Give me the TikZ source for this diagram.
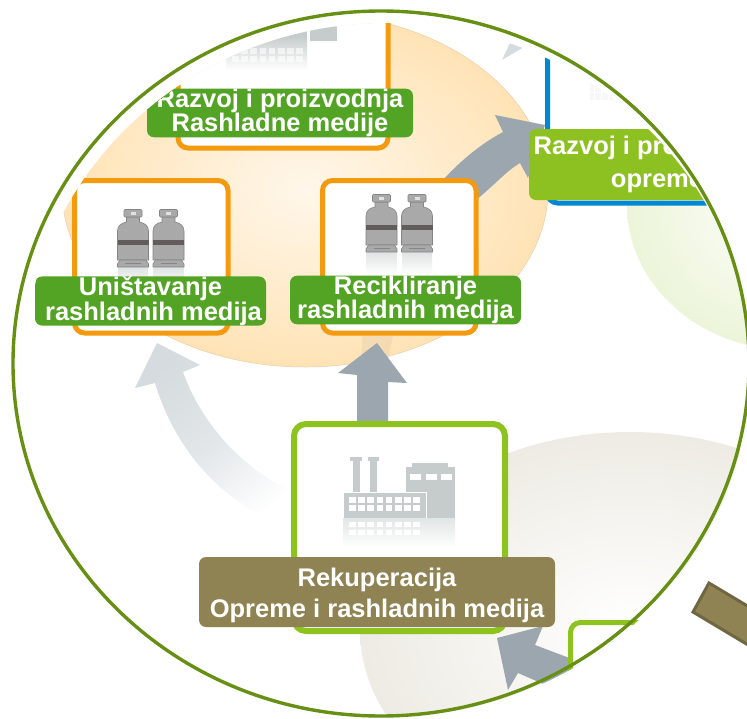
\documentclass[tikz,border=0pt]{standalone}
\usepackage{fontspec}
\setmainfont{Liberation Sans}
\usetikzlibrary{positioning}
\definecolor{RingGreen}{HTML}{668F14}
\definecolor{BoxOrange}{HTML}{F39A0E}
\definecolor{BoxLime}{HTML}{8DC21F}
\definecolor{BoxBlue}{HTML}{0087D1}
\definecolor{LabelGreen}{HTML}{53A325}
\definecolor{LabelLime}{HTML}{8DC021}
\definecolor{LabelBrown}{HTML}{8F8353}
\definecolor{HandleEdge}{HTML}{6F6642}
\definecolor{ArrowGrey}{HTML}{9BA6AF}
\definecolor{PaleGrey}{HTML}{D5DBDE}
\definecolor{IconGrey}{HTML}{C6CCCC}
\definecolor{CylGrey}{HTML}{A9A9A9}
\definecolor{CylEdge}{HTML}{858585}
\definecolor{CylBand}{HTML}{625C5C}
\definecolor{DiscInner}{HTML}{FFF7EA}
\definecolor{DiscOuter}{HTML}{FFE3B6}
\definecolor{DiscEdge}{HTML}{E9CDA6}
\tikzset{
  labelbox/.style={rounded corners=7pt,text=white,align=center,inner sep=0pt,
    font=\fontsize{25.5}{#1}\selectfont\bfseries},
  framebox/.style={line width=5pt,rounded corners=10pt,fill=white},
  cylinder icon/.pic={
    \shade[top color=IconGrey!55,bottom color=white] (-15,58) rectangle (15,80);
    \path[fill=CylGrey,draw=CylEdge,line width=.6pt] (-6.5,8) -- (6.5,8) -- (6.5,13)
      .. controls (12,14) and (15.5,17) .. (15.5,22) -- (15.5,51) -- (-15.5,51) -- (-15.5,22)
      .. controls (-15.5,17) and (-12,14) .. (-6.5,13) -- cycle;
    \path[fill=CylGrey,draw=CylEdge,line width=.6pt,rounded corners=1pt] (-9,.5) rectangle (9,8);
    \fill[white!65!CylGrey] (-2.5,3) rectangle (2.5,5.5);
    \fill[CylBand] (-15.5,31) rectangle (15.5,36);
    \path[fill=CylGrey,draw=CylEdge,line width=.6pt] (-13,51) -- (13,51) -- (15.5,55) -- (15.5,58) -- (-15.5,58) -- (-15.5,55) -- cycle;
    \draw[CylEdge,line width=.6pt] (-8,54) -- (8,54);
  },
  factory icon/.pic={
    \shade[top color=IconGrey!50,bottom color=white] (0,26) rectangle (112,56);
    \fill[IconGrey] (7,-35) rectangle (19,-31);
    \fill[IconGrey] (25,-35) rectangle (36,-31);
    \fill[IconGrey] (10,-31) rectangle (17,0);
    \fill[IconGrey] (27,-31) rectangle (34,0);
    \fill[IconGrey] (69,-29) rectangle (105,-25);
    \fill[IconGrey] (63,-25) rectangle (112,26);
    \foreach \wx in {67,83,98} \fill[white] (\wx,-18) rectangle ++(11,6);
    \path[fill=IconGrey,draw=white,line width=.8pt] (0,26) -- (0,0) -- (83,0) -- (83,26);
    \foreach \wx in {0,...,7} {
      \fill[white] (6+\wx*9.2,5) rectangle ++(6.6,6);
      \fill[white] (6+\wx*9.2,13) rectangle ++(6.6,6);
      \fill[white] (6+\wx*9.2,30) rectangle ++(6.6,5);
      \fill[white] (6+\wx*9.2,38) rectangle ++(6.6,5);
    }
  }
}

\begin{document}
\begin{tikzpicture}[x=1pt,y=-1pt]
\useasboundingbox (0,0) rectangle (747,718);

\begin{scope}
\clip (387,370) ellipse [x radius=363,y radius=347];

% discs behind the boxes
\shade[inner color=DiscInner,outer color=DiscOuter] (305,190) ellipse [x radius=243,y radius=177];
\draw[DiscEdge,line width=.5pt] (305,190) ellipse [x radius=243,y radius=177];
\fill[black!40!DiscOuter,opacity=.1] (362,336) -- (393,336) -- (387,362) -- (362,362) -- cycle;
\shade[inner color=white,outer color=BoxLime!17!white] (790,205) ellipse [x radius=163,y radius=145];
\shade[inner color=white,outer color=LabelBrown!16!white] (630,630) ellipse [x radius=270,y radius=198];

% arrows
\fill[PaleGrey] (502,60) -- (510,43) -- (524,47) -- cycle;
\shade[top color=PaleGrey,bottom color=white,middle color=PaleGrey!70,shading angle=40]
  (157,343) -- (200,365) -- (183,372) .. controls (200,420) and (240,470) .. (300,495)
  -- (300,530) .. controls (225,510) and (175,450) .. (155,383) -- (135,388) -- cycle;
\fill[ArrowGrey] (377,343) -- (407,383) -- (388,382) -- (388,430) -- (357,430) -- (357,375) -- (338,373) -- cycle;
\fill[ArrowGrey] (545,125) -- (528,178) -- (520,163) .. controls (505,172) and (495,185) .. (470,205)
  -- (430,195) .. controls (450,170) and (475,147) .. (503,132) -- (495,115) -- cycle;
\fill[ArrowGrey] (497,638) -- (543,626) -- (535,645) -- (580,662) -- (580,700) -- (518,673) -- (508,690) -- cycle;

% frames
\draw[framebox,draw=BoxOrange] (178,10) rectangle (388,148);
\draw[framebox,draw=BoxOrange] (74.5,180.5) rectangle (228,333);
\draw[framebox,draw=BoxOrange] (322.5,180.5) rectangle (476,333);
\draw[framebox,draw=BoxBlue] (547.5,20) rectangle (800,203);
\draw[framebox,draw=BoxLime,line width=6pt,rounded corners=12pt] (294,424) rectangle (505,631);
\draw[framebox,draw=BoxLime] (570.5,622.5) rectangle (800,800);

% what is left of the two upper pictures
\fill[IconGrey] (226,20) rectangle (307,36);
\shade[top color=IconGrey,bottom color=white] (226,36) rectangle (307,70);
\foreach \wx in {0,...,7} {
  \fill[white,opacity=.6] (232+\wx*9.2,48) rectangle ++(6.6,6);
  \fill[white,opacity=.6] (232+\wx*9.2,56) rectangle ++(6.6,6);
}
\fill[IconGrey] (310,20) rectangle (337,41);
\fill[black!3] (590,83) rectangle (613,100);
\foreach \wx in {594,601,608} \draw[white,line width=.6pt] (\wx,83) -- (\wx,100);
\draw[white,line width=.6pt] (590,92) -- (613,92);

% icons
\pic at (133,209) {cylinder icon};
\pic at (168.5,209) {cylinder icon};
\pic at (381.5,194) {cylinder icon};
\pic at (417,194) {cylinder icon};
\pic at (343,492) {factory icon};

% labels
\node[labelbox=21pt,fill=LabelGreen,minimum width=266pt,minimum height=48pt] (develop) at (280,113) {Razvoj i proizvodnja\\Rashladne medije};
\node[labelbox=21pt,fill=LabelGreen,minimum width=231pt,minimum height=48pt] (destroy) at (150.5,301) {Uništavanje\\\hspace*{6pt}rashladnih medija};
\node[labelbox=21pt,fill=LabelGreen,minimum width=231pt,minimum height=48pt] (recycle) at (405.5,300) {Recikliranje\\rashladnih medija};
\node[labelbox=33pt,fill=LabelLime,minimum width=256pt,minimum height=71pt] (equipment) at (657,164.5) {Razvoj i proizvodnja\\opreme};
\node[labelbox=31pt,fill=LabelBrown,minimum width=356pt,minimum height=70pt] (recovery) at (377,592) {\rule{0pt}{26pt}Rekuperacija\\Opreme i rashladnih medija};
\end{scope}

% ring and handle
\draw[RingGreen,line width=3.4pt] (381,363.5) ellipse [x radius=368,y radius=352.5];
\begin{scope}
\clip (0,0) rectangle (747,718);
\draw[fill=LabelBrown,draw=HandleEdge,line width=3pt] (709,583) -- (693,612) -- (790,670) -- (806,641) -- cycle;
\end{scope}
\end{tikzpicture}
\end{document}
